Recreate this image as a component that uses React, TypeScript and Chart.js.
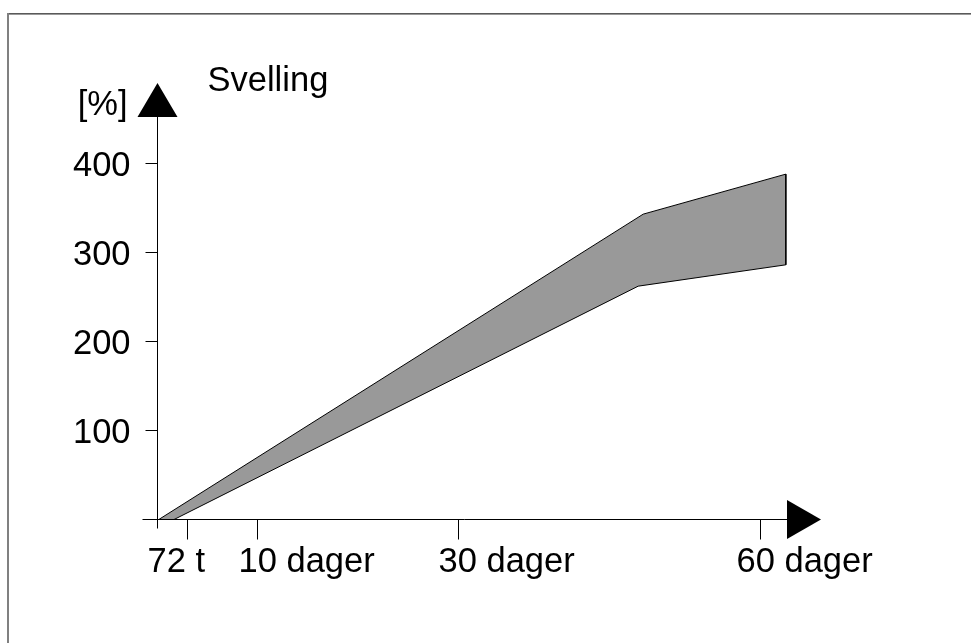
import React, { useEffect, useRef } from "react";
import { Chart, registerables } from "chart.js";

Chart.register(...registerables);

// Band edges (x in days, y in %)
const upperDays = [0, 48.3, 62.5];
const upperValues = [0, 344, 389];
const lowerDays = [1.5, 47.8, 62.5];
const lowerValues = [0, 263, 287];

// Axis ticks
const yTickValues = [100, 200, 300, 400];
const xTickValues = [3, 10, 30, 60];
const xTickLabels = ["72 t", "10 dager", "30 dager", "60 dager"];

const yAxisUnit = "[%]";
const chartTitle = "Svelling";

const FONT = '34.5px "Liberation Sans", Arial, sans-serif';

export default function App() {
  const ref = useRef<HTMLCanvasElement | null>(null);

  useEffect(() => {
    const canvas = ref.current;
    if (!canvas) return;

    const upper = upperDays.map((d, i) => ({ x: d, y: upperValues[i] }));
    const lower = lowerDays.map((d, i) => ({ x: d, y: lowerValues[i] }));
    const polygon = [...upper, ...lower.slice().reverse(), upper[0]];

    const labelNudge = [-40, -19, -20, -24];

    const decor = {
      id: "decor",
      beforeDraw(chart: any) {
        const ctx = chart.ctx;
        ctx.save();
        ctx.fillStyle = "#ffffff";
        ctx.fillRect(0, 0, chart.width, chart.height);
        // frame
        ctx.fillStyle = "#5a5a5a";
        ctx.fillRect(8, 13, chart.width - 8, 1);
        ctx.fillStyle = "#9a9a9a";
        ctx.fillRect(8, 14, chart.width - 8, 1);
        ctx.fillStyle = "#808080";
        ctx.fillRect(7, 13, 2, chart.height - 13);
        ctx.restore();
      },
      afterDatasetsDraw(chart: any) {
        const ctx = chart.ctx;
        const xs = chart.scales.x;
        const ys = chart.scales.y;
        const ox = Math.round(xs.getPixelForValue(0)) - 0.5;
        const oy = Math.round(ys.getPixelForValue(0)) - 0.5;
        const top = ys.getPixelForValue(ys.max);
        const right = xs.getPixelForValue(xs.max);

        ctx.save();
        ctx.strokeStyle = "#000";
        ctx.fillStyle = "#000";
        ctx.lineWidth = 1;

        // y axis line (extends a bit below x axis)
        ctx.beginPath();
        ctx.moveTo(ox, top + 34);
        ctx.lineTo(ox, oy + 9);
        ctx.stroke();
        // y arrow
        ctx.beginPath();
        ctx.moveTo(ox, top);
        ctx.lineTo(ox - 20, top + 34);
        ctx.lineTo(ox + 20, top + 34);
        ctx.closePath();
        ctx.fill();

        // x axis line (extends a bit left of y axis)
        ctx.beginPath();
        ctx.moveTo(ox - 15, oy);
        ctx.lineTo(right - 34, oy);
        ctx.stroke();
        // x arrow
        ctx.beginPath();
        ctx.moveTo(right, oy);
        ctx.lineTo(right - 34, oy - 19.5);
        ctx.lineTo(right - 34, oy + 19.5);
        ctx.closePath();
        ctx.fill();

        ctx.font = FONT;
        ctx.textBaseline = "alphabetic";

        // y ticks + labels
        ctx.textAlign = "right";
        yTickValues.forEach((v) => {
          const py = Math.round(ys.getPixelForValue(v)) - 0.5;
          ctx.beginPath();
          ctx.moveTo(ox - 12, py);
          ctx.lineTo(ox, py);
          ctx.stroke();
          ctx.fillText(String(v), ox - 27, py + 12);
        });

        // x ticks + labels
        ctx.textAlign = "left";
        xTickValues.forEach((v, i) => {
          const px = Math.round(xs.getPixelForValue(v)) - 0.5;
          ctx.beginPath();
          ctx.moveTo(px, oy);
          ctx.lineTo(px, oy + 20);
          ctx.stroke();
          ctx.fillText(xTickLabels[i], px + labelNudge[i], oy + 52);
        });

        // unit and title
        ctx.textAlign = "right";
        ctx.fillText(yAxisUnit, ox - 30, top + 32);
        ctx.textAlign = "left";
        ctx.fillText(chartTitle, ox + 50, top + 8);

        ctx.restore();
      },
    };

    const chart = new Chart(canvas, {
      type: "line",
      data: {
        datasets: [
          {
            data: polygon,
            fill: "shape",
            backgroundColor: "#999999",
            borderColor: "#000000",
            borderWidth: 1,
            pointRadius: 0,
            tension: 0,
          } as any,
        ],
      },
      options: {
        animation: false,
        responsive: false,
        devicePixelRatio: 1,
        layout: { padding: { left: 158, right: 150, top: 83, bottom: 123 } },
        scales: {
          x: { type: "linear", min: 0, max: 66, display: false },
          y: { type: "linear", min: 0, max: 491.5, display: false },
        },
        plugins: { legend: { display: false }, tooltip: { enabled: false } },
      },
      plugins: [decor],
    });

    return () => chart.destroy();
  }, []);

  return (
    <div style={{ position: "fixed", left: 0, top: 0, width: 971, height: 643 }}>
      <canvas ref={ref} width={971} height={643} style={{ display: "block" }} />
    </div>
  );
}
